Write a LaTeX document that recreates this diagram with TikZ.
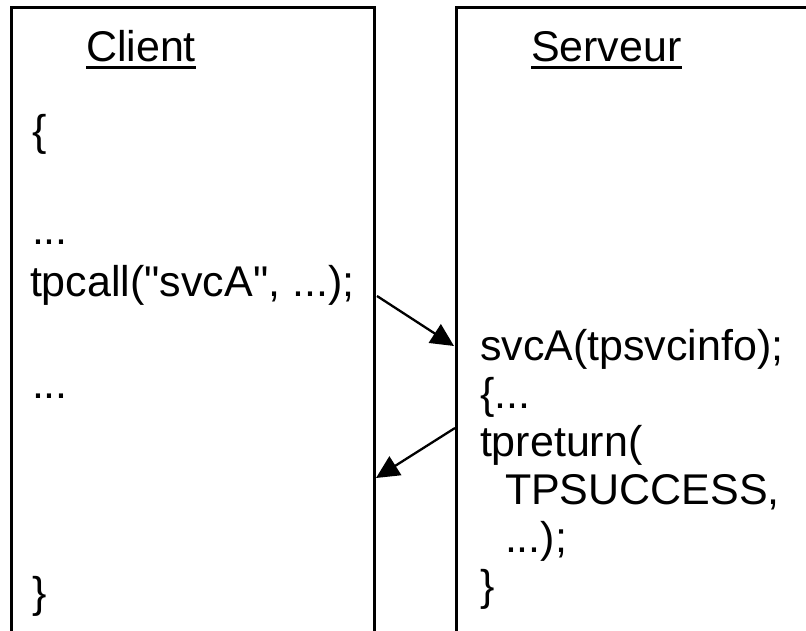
\documentclass[tikz,border=0pt]{standalone}
\usepackage{fontspec}
\setmainfont{Liberation Sans}[Ligatures=TeXOff]
\usetikzlibrary{arrows.meta}
\tikzset{
  txt/.style={anchor=base west, inner sep=0pt, outer sep=0pt, font=\fontsize{43}{48}\selectfont},
  frame/.style={line width=3pt},
  msg/.style={line width=2.3pt, -{Triangle[length=23pt,width=22pt]}}
}
\begin{document}
\begin{tikzpicture}[x=1pt,y=-1pt]
\useasboundingbox (0,0) rectangle (806,631);
\clip (0,0) rectangle (806,631);
\fill[white] (0,0) rectangle (806,631);
% frames
\draw[frame] (11,700) -- (11,8) -- (374,8) -- (374,700);
\draw[frame] (456,700) -- (456,8) -- (900,8);
% headers
\node[txt] (cl) at (86,62) {Client};
\draw[line width=3pt] ([yshift=-6pt]cl.base west) -- ([yshift=-6pt]cl.base east);
\node[txt] (sv) at (531,62) {Serveur};
\draw[line width=3pt] ([yshift=-6pt]sv.base west) -- ([yshift=-6pt]sv.base east);
% client code
\node[txt] (c1) at (32,146) {\{};
\node[txt] (c2) at (32,245) {...};
\node[txt] (c3) at (30,296) {tpcall("svcA", ...);};
\node[txt] (c4) at (32,398) {...};
\node[txt] (c5) at (32,607) {\}};
% server code
\node[txt] (s1) at (480,360) {svcA(tpsvcinfo);};
\node[txt] (s2) at (480,408) {\{...};
\node[txt] (s3) at (480,456) {tpreturn(};
\node[txt] (s4) at (505,504) {TPSUCCESS,};
\node[txt] (s5) at (505,552) {...);};
\node[txt] (s6) at (480,600) {\}};
% arrows
\coordinate (a1s) at (377,296);
\coordinate (a1e) at (454,346);
\coordinate (a2s) at (455,428);
\coordinate (a2e) at (376,478);
\draw[msg] (a1s) -- (a1e);
\draw[msg] (a2s) -- (a2e);
\end{tikzpicture}
\end{document}
